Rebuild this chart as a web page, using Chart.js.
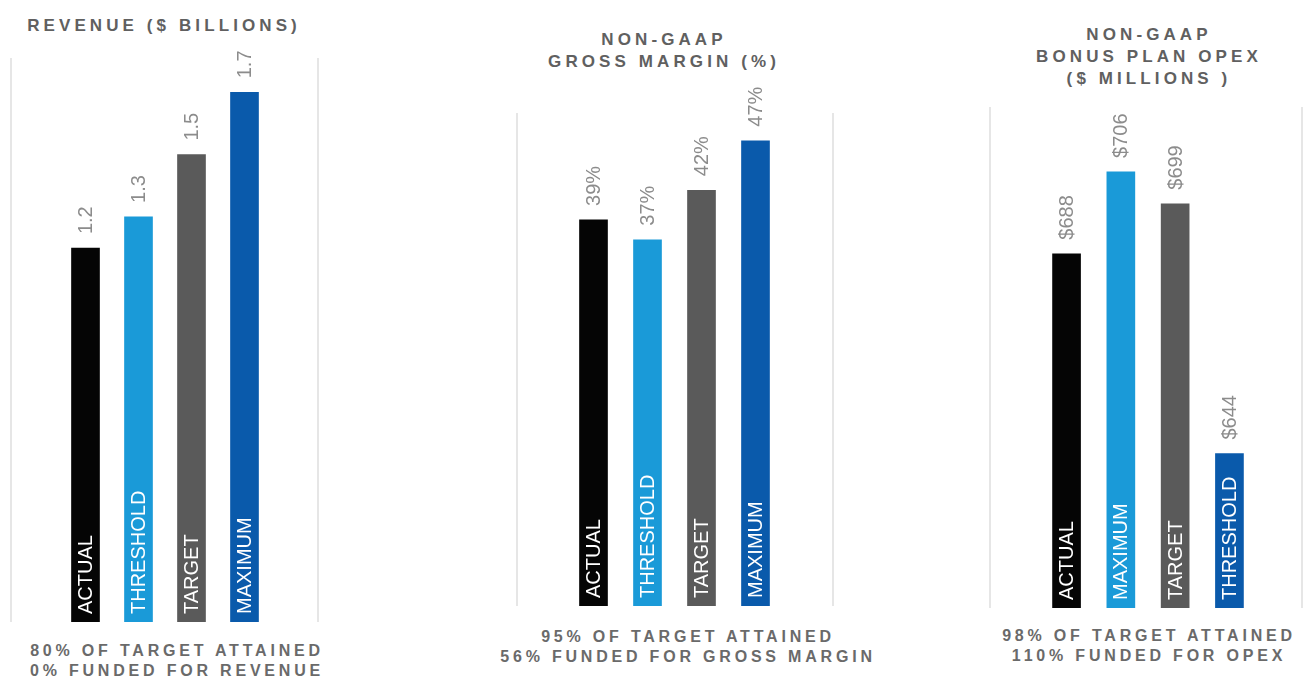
<!DOCTYPE html>
<html>
<head>
<meta charset="utf-8">
<script src="https://cdn.jsdelivr.net/npm/chart.js@4.4.1/dist/chart.umd.min.js"></script>
<style>
  html, body { margin: 0; padding: 0; background: #fff; overflow: hidden; }
  body { width: 1303px; height: 677px; position: relative; font-family: 'Liberation Sans', Arial, sans-serif; }
  .panel { position: absolute; }
  .txt { position: absolute; transform: translateX(-50%); white-space: nowrap; font-weight: bold; color: #606060; text-align: center; }
  .title { font-size: 17px; letter-spacing: 4.1px; line-height: 22px; }
  .foot { font-size: 16px; letter-spacing: 3.8px; line-height: 20px; color: #6a6a6a; }
</style>
</head>
<body>

<div class="txt title" style="left:164px; top:15px;">REVENUE ($ BILLIONS)</div>
<div class="txt title" style="left:664px; top:29px;">NON-GAAP<br>GROSS MARGIN (%)</div>
<div class="txt title" style="left:1149px; top:24px;">NON-GAAP<br>BONUS PLAN OPEX<br>($ MILLIONS )</div>

<div class="panel" style="left:0px; top:30px;"><canvas id="revenueChart" width="330" height="592"></canvas></div>
<div class="panel" style="left:505px; top:60px;"><canvas id="marginChart" width="340" height="546"></canvas></div>
<div class="panel" style="left:980px; top:60px;"><canvas id="opexChart" width="323" height="548"></canvas></div>

<div class="txt foot" style="left:177px; top:641px;">80% OF TARGET ATTAINED<br>0% FUNDED FOR REVENUE</div>
<div class="txt foot" style="left:688px; top:627px;">95% OF TARGET ATTAINED<br>56% FUNDED FOR GROSS MARGIN</div>
<div class="txt foot" style="left:1149px; top:626px;">98% OF TARGET ATTAINED<br>110% FUNDED FOR OPEX</div>

<script>
const barColors = ['#050505', '#1a9ad8', '#5a5a5a', '#0a5aab'];

const revenueLabels = ['ACTUAL', 'THRESHOLD', 'TARGET', 'MAXIMUM'];
const revenueValues = [1.2, 1.3, 1.5, 1.7];

const marginLabels = ['ACTUAL', 'THRESHOLD', 'TARGET', 'MAXIMUM'];
const marginValues = [39, 37, 42, 47];

const opexLabels = ['ACTUAL', 'MAXIMUM', 'TARGET', 'THRESHOLD'];
const opexValues = [688, 706, 699, 644];

const FONT = "'Liberation Sans', Arial, sans-serif";

// vertical divider lines + rotated labels on and above bars
const barText = {
  id: 'barText',
  afterDatasetsDraw(chart, args, opts) {
    const ctx = chart.ctx;
    const area = chart.chartArea;
    ctx.save();
    ctx.strokeStyle = '#e6e6e6';
    ctx.lineWidth = 2;
    opts.lines.forEach(x => {
      ctx.beginPath();
      ctx.moveTo(x, area.top);
      ctx.lineTo(x, area.bottom);
      ctx.stroke();
    });

    const meta = chart.getDatasetMeta(0);
    const values = chart.data.datasets[0].data;
    meta.data.forEach((bar, i) => {
      // value above the bar
      ctx.save();
      ctx.translate(bar.x, bar.y - 14);
      ctx.rotate(-Math.PI / 2);
      ctx.font = '20px ' + FONT;
      ctx.fillStyle = '#8c8c8c';
      ctx.textAlign = 'left';
      ctx.textBaseline = 'middle';
      ctx.fillText(opts.format(values[i]), 0, 1);
      ctx.restore();

      // category inside the bar (base can sit below the area when min > 0)
      const bottom = Math.min(bar.base, area.bottom);
      ctx.save();
      ctx.translate(bar.x, bottom - 8);
      ctx.rotate(-Math.PI / 2);
      ctx.font = '20px ' + FONT;
      ctx.fillStyle = '#ffffff';
      ctx.textAlign = 'left';
      ctx.textBaseline = 'middle';
      ctx.fillText(chart.data.labels[i], 0, 1);
      ctx.restore();
    });
    ctx.restore();
  }
};

function makeChart(id, labels, values, yMin, yMax, padding, lines, format) {
  const ctx = document.getElementById(id).getContext('2d');
  return new Chart(ctx, {
    type: 'bar',
    data: {
      labels,
      datasets: [{
        data: values,
        backgroundColor: barColors,
        barThickness: 28
      }]
    },
    options: {
      responsive: false,
      animation: false,
      layout: { padding },
      scales: {
        x: { display: false },
        y: { display: false, min: yMin, max: yMax }
      },
      plugins: {
        legend: { display: false },
        tooltip: { enabled: false },
        barText: { lines, format }
      }
    },
    plugins: [barText]
  });
}

makeChart('revenueChart', revenueLabels, revenueValues, 0, 1.81,
  { left: 59, right: 59, top: 28, bottom: 0 }, [11, 318], v => v.toFixed(1));

makeChart('marginChart', marginLabels, marginValues, 0, 49.8,
  { left: 61.5, right: 62.5, top: 53, bottom: 0 }, [12, 328], v => v + '%');

makeChart('opexChart', opexLabels, opexValues, 610, 720.3,
  { left: 59.4, right: 46.4, top: 47, bottom: 0 }, [10, 322], v => '$' + v);
</script>
</body>
</html>
